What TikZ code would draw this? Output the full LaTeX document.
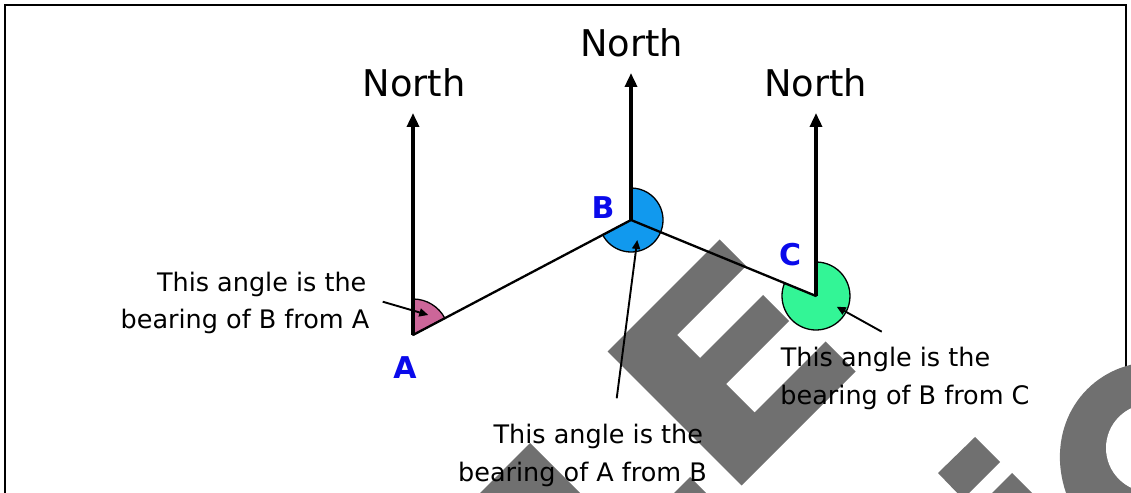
\documentclass[tikz,border=0pt]{standalone}
\usepackage{fontspec}
\setmainfont{DejaVu Sans}
\usetikzlibrary{arrows.meta}
\definecolor{wmgray}{RGB}{112,112,112}
\definecolor{pinkfill}{RGB}{204,102,153}
\definecolor{bluefill}{RGB}{17,153,238}
\definecolor{greenfill}{RGB}{51,245,150}
\definecolor{lettblue}{RGB}{10,10,235}
\begin{document}
\begin{tikzpicture}[x=1pt,y=1pt,
  northarrow/.style={line width=3.4pt,-{Triangle[width=12pt,length=14pt]}},
  pointer/.style={line width=1.9pt,-{Triangle[width=8pt,length=9pt]}},
  leg/.style={line width=2.3pt},
  sector/.style={draw=black,line width=1.3pt},
  northtext/.style={anchor=base,inner sep=0pt,font=\fontsize{36.8}{40}\selectfont},
  note/.style={anchor=base,inner sep=0pt,font=\fontsize{25.5}{30}\selectfont},
  letter/.style={inner sep=0pt,text=lettblue,font=\fontsize{30}{32}\selectfont\bfseries},
  wm/.style={fill=wmgray}]
\useasboundingbox (0,0) rectangle (1131,492);
\begin{scope}
\clip (0,0) rectangle (1131,492);
% frame
\draw[line width=1.6pt] (5,-5) -- (5,487) -- (1126,487) -- (1126,-5);
% watermark pieces
\fill[wm] (607.5,140.5) -- (719.5,252.5) -- (746,226) -- (677,157) -- (700,134) -- (763,197) -- (789,171) -- (726,108) -- (754.5,79.5) -- (825.5,150.5) -- (855.5,120.5) -- (741.5,6.5) -- cycle;
\fill[wm] (530,49) -- (590,-11) -- (470,-11) -- cycle;
\fill[wm] (690,15) -- (710,-5) -- (670,-5) -- cycle;
\fill[wm] (975,55) -- (1000,30) -- (963,-7) -- (938,19) -- cycle;
\fill[wm] (1012,19) -- (1036,-5) -- (988,-5) -- cycle;
\fill[wm,rotate around={135:(1165,25)}] (1165,25) ellipse[x radius=110,y radius=100];
\fill[white] (1150,44) circle[radius=44];
\end{scope}
% vertices
\coordinate (A) at (413,157);
\coordinate (B) at (631,272);
\coordinate (C) at (816,196);
\coordinate (An) at (413,379);
\coordinate (Bn) at (631,419);
\coordinate (Cn) at (816,379);
% sectors
\filldraw[sector,fill=pinkfill] (A) -- ++(27.8:36) arc[start angle=27.8,end angle=90,radius=36] -- cycle;
\filldraw[sector,fill=bluefill] (B) -- ++(-152.2:32) arc[start angle=-152.2,end angle=90,radius=32] -- cycle;
\filldraw[sector,fill=greenfill] (C) -- ++(-202.3:34) arc[start angle=-202.3,end angle=90,radius=34] -- cycle;
% legs
\draw[leg] (A) -- (B) -- (C);
% north arrows
\draw[northarrow] (A) -- (An);
\draw[northarrow] (B) -- (Bn);
\draw[northarrow] (C) -- (Cn);
\node[northtext] (NA) at (414,395) {North};
\node[northtext] (NB) at (631.5,435) {North};
\node[northtext] (NC) at (815.5,395) {North};
% letters
\node[letter] (LA) at (405,124) {A};
\node[letter] (LB) at (603,284) {B};
\node[letter] (LC) at (790,237) {C};
% notes
\node[note] (A1) at (261.7,200.3) {This angle is the};
\node[note] (A2) at (245,163.7) {bearing of B from A};
\node[note] (B1) at (598.3,48.7) {This angle is the};
\node[note] (B2) at (582.5,10.3) {bearing of A from B};
\node[note] (C1) at (885.5,125.3) {This angle is the};
\node[note] (C2) at (905,87) {bearing of B from C};
% pointers
\coordinate (pA0) at (382.7,190.3);
\coordinate (pA1) at (428.3,177);
\coordinate (pB0) at (616.7,93.7);
\coordinate (pB1) at (637.3,252);
\coordinate (pC0) at (881.7,160.3);
\coordinate (pC1) at (836.7,185.3);
\draw[pointer] (pA0) -- (pA1);
\draw[pointer] (pB0) -- (pB1);
\draw[pointer] (pC0) -- (pC1);
\end{tikzpicture}
\end{document}
